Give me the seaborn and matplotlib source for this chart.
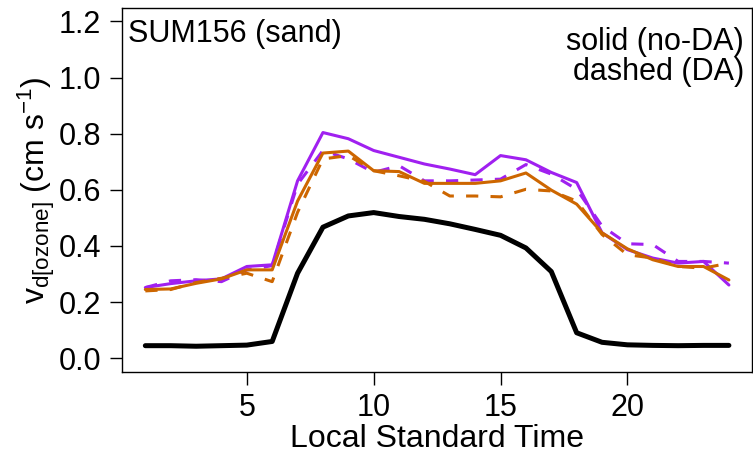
import numpy as np
import pandas as pd
import matplotlib
matplotlib.use("Agg")
import matplotlib.pyplot as plt
import seaborn as sns

# ---------------- Data ----------------
hours = list(range(1, 25))

# black reference curve
baseline = [0.045, 0.045, 0.043, 0.045, 0.047, 0.060, 0.303, 0.467, 0.507, 0.519, 0.505, 0.495,
            0.479, 0.459, 0.438, 0.393, 0.309, 0.091, 0.057, 0.048, 0.046, 0.045, 0.046, 0.046]

# purple, solid (no-DA) and dashed (DA)
purple_noda = [0.252, 0.266, 0.276, 0.283, 0.327, 0.333, 0.632, 0.804, 0.782, 0.740, 0.716, 0.692,
               0.674, 0.654, 0.722, 0.707, 0.662, 0.626, 0.447, 0.387, 0.357, 0.339, 0.345, 0.261]
purple_da = [0.252, 0.276, 0.280, 0.273, 0.315, 0.330, 0.620, 0.740, 0.710, 0.662, 0.686, 0.632,
             0.632, 0.635, 0.638, 0.690, 0.656, 0.602, 0.471, 0.408, 0.405, 0.345, 0.345, 0.339]

# orange, solid (no-DA) and dashed (DA)
orange_noda = [0.245, 0.247, 0.267, 0.283, 0.315, 0.315, 0.560, 0.731, 0.738, 0.668, 0.665, 0.623,
               0.623, 0.623, 0.632, 0.660, 0.599, 0.549, 0.447, 0.390, 0.351, 0.327, 0.327, 0.279]
orange_da = [0.240, 0.245, 0.270, 0.285, 0.303, 0.273, 0.520, 0.710, 0.722, 0.668, 0.650, 0.630,
             0.578, 0.578, 0.575, 0.602, 0.596, 0.560, 0.441, 0.369, 0.357, 0.327, 0.321, 0.339]

PURPLE = "#A020F0"
ORANGE = "#CD6600"
FS = 22

# ---------------- Style ----------------
sns.set_theme(style="white")
plt.rcParams["font.family"] = ["Liberation Sans", "DejaVu Sans"]
plt.rcParams["mathtext.fontset"] = "custom"
plt.rcParams["mathtext.rm"] = "Liberation Sans"
plt.rcParams["mathtext.it"] = "Liberation Sans"
plt.rcParams["text.color"] = "black"
plt.rcParams["axes.labelcolor"] = "black"
plt.rcParams["xtick.color"] = "black"
plt.rcParams["ytick.color"] = "black"

fig = plt.figure(figsize=(7.53, 4.63), dpi=100)
ax = fig.add_axes([0.162, 0.197, 0.837, 0.786])

series = [
    (purple_noda, PURPLE, "-", 2.2),
    (purple_da, PURPLE, (0, (4, 4)), 2.2),
    (orange_noda, ORANGE, "-", 2.2),
    (orange_da, ORANGE, (0, (4, 4)), 2.2),
    (baseline, "black", "-", 3.6),
]
for vals, col, ls, lw in series:
    sns.lineplot(x=hours, y=vals, ax=ax, color=col, linewidth=lw, linestyle=ls,
                 solid_capstyle="round", solid_joinstyle="round")

ax.set_xlim(0.08, 24.92)
ax.set_ylim(-0.048, 1.248)
ax.set_xticks([5, 10, 15, 20])
yt = np.arange(0, 1.21, 0.2)
ax.set_yticks(yt)
ax.set_yticklabels([f"{v:.1f}" for v in yt])
ax.tick_params(direction="out", length=9, width=1, pad=6, labelsize=FS,
               bottom=True, left=True)
for s in ax.spines.values():
    s.set_color("black")
    s.set_linewidth(1)

ax.set_xlabel("Local Standard Time", fontsize=FS + 1, labelpad=1)
ax.set_ylabel(r"v$_{\mathrm{d[ozone]}}$ (cm s$^{-1}$)", fontsize=FS + 1, labelpad=1)

ax.text(0.0095, 0.929, "SUM156 (sand)", transform=ax.transAxes, fontsize=FS,
        ha="left", va="center")
ax.text(0.987, 0.905, "solid (no-DA)", transform=ax.transAxes, fontsize=FS,
        ha="right", va="center")
ax.text(0.987, 0.825, "dashed (DA)", transform=ax.transAxes, fontsize=FS,
        ha="right", va="center")

fig.savefig("out.png", dpi=100)
